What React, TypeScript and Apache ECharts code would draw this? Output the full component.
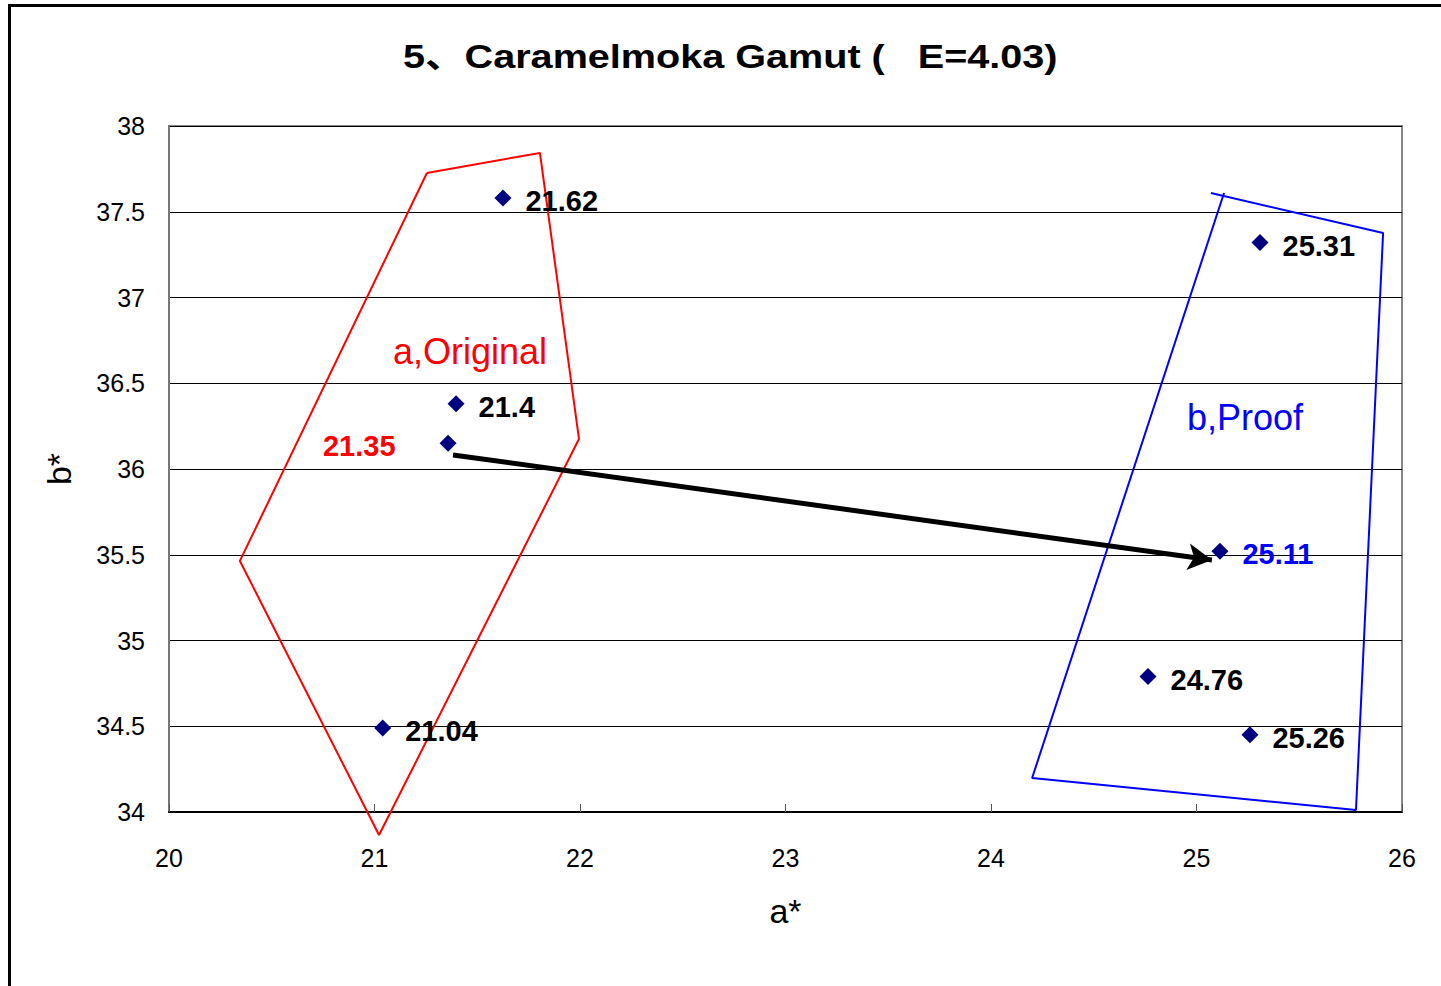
import React, { useEffect, useRef } from "react";
import * as echarts from "echarts";

const pointLabels = ["21.62", "21.4", "21.35", "21.04", "25.31", "25.11", "24.76", "25.26"];
const pointA = [21.625, 21.397, 21.358, 21.04, 25.309, 25.114, 24.764, 25.26];
const pointB = [37.58, 36.38, 36.15, 34.49, 37.32, 35.52, 34.79, 34.45];
const labelColors = ["#000", "#000", "#ff0000", "#000", "#000", "#0000ff", "#000", "#000"];

const originalA = [21.255, 21.805, 21.995, 21.022, 20.345, 21.255];
const originalB = [37.726, 37.843, 36.175, 33.866, 35.464, 37.726];

const proofA = [25.07, 25.908, 25.776, 24.2, 25.134];
const proofB = [37.609, 37.376, 34.012, 34.198, 37.609];

const arrowFrom = [21.382, 36.082];
const arrowTo = [25.075, 35.469];

const regionNames = ["a,Original", "b,Proof"];
const regionA = [21.465, 25.236];
const regionB = [36.688, 36.303];
const regionColors = ["#ff0000", "#0000ff"];

const xTicks = [20, 21, 22, 23, 24, 25, 26];
const yTicks = [34, 34.5, 35, 35.5, 36, 36.5, 37, 37.5, 38];

const titleText = "5、Caramelmoka Gamut (   E=4.03)";

const FONT = "'Liberation Sans', Arial, 'Noto Sans CJK SC', sans-serif";

export default function App() {
  const ref = useRef<HTMLDivElement>(null);
  useEffect(() => {
    if (!ref.current) return;
    const chart = echarts.init(ref.current, undefined, { renderer: "svg" });
    const option: any = {
      animation: false,
      backgroundColor: "#fff",
      graphic: [
        {
          type: "rect",
          shape: { x: 9.5, y: 5.5, width: 1600, height: 1600 },
          style: { fill: "none", stroke: "#000", lineWidth: 3 },
          silent: true,
        },
        {
          type: "text",
          x: 403,
          y: 57,
          scaleX: 1.2,
          silent: true,
          style: {
            text: titleText,
            fontFamily: FONT,
            fontSize: 33,
            fontWeight: "bold",
            fill: "#000",
            textVerticalAlign: "middle",
            verticalAlign: "middle",
          },
        },
      ],
      grid: {
        left: 169,
        top: 126,
        width: 1233,
        height: 686,
        show: true,
        borderColor: "#888",
        borderWidth: 2,
        backgroundColor: "transparent",
      },
      xAxis: {
        type: "value",
        min: xTicks[0],
        max: xTicks[xTicks.length - 1],
        interval: 1,
        name: "a*",
        nameLocation: "middle",
        nameGap: 82,
        nameTextStyle: { fontFamily: FONT, fontSize: 34, color: "#000" },
        axisLine: { show: true, onZero: false, lineStyle: { color: "#000", width: 2 } },
        axisTick: { show: true, inside: true, length: 8, lineStyle: { color: "#555", width: 1 } },
        axisLabel: { fontFamily: FONT, fontSize: 25, color: "#000", margin: 33 },
        splitLine: { show: false },
      },
      yAxis: {
        type: "value",
        min: yTicks[0],
        max: yTicks[yTicks.length - 1],
        interval: 0.5,
        name: "b*",
        nameLocation: "middle",
        nameGap: 93,
        nameTextStyle: { fontFamily: FONT, fontSize: 34, color: "#000" },
        axisLine: { show: true, onZero: false, lineStyle: { color: "#777", width: 2 } },
        axisTick: { show: false },
        axisLabel: { fontFamily: FONT, fontSize: 25, color: "#000", margin: 24 },
        splitLine: { show: true, lineStyle: { color: "#000", width: 1 } },
      },
      series: [
        {
          type: "line",
          data: originalA.map((a, i) => [a, originalB[i]]),
          symbol: "none",
          clip: false,
          lineStyle: { color: "#ff0000", width: 2 },
          silent: true,
          z: 3,
        },
        {
          type: "line",
          data: proofA.map((a, i) => [a, proofB[i]]),
          symbol: "none",
          clip: false,
          lineStyle: { color: "#0000ff", width: 2 },
          silent: true,
          z: 3,
        },
        {
          type: "scatter",
          data: [],
          silent: true,
          z: 4,
          markLine: {
            silent: true,
            symbol: ["none", "arrow"],
            symbolSize: [20, 24],
            lineStyle: { color: "#000", width: 5, type: "solid" },
            label: { show: false },
            data: [[{ coord: arrowFrom }, { coord: arrowTo }]],
          },
        },
        {
          type: "scatter",
          symbol: "diamond",
          symbolSize: 17,
          itemStyle: { color: "#000080", opacity: 1 },
          z: 5,
          data: pointA.map((a, i) => ({
            value: [a, pointB[i]],
            name: pointLabels[i],
            label: {
              show: true,
              formatter: pointLabels[i],
              position: i === 2 ? "left" : "right",
              distance: i === 2 ? 44 : 14,
              offset: [0, 3],
              color: labelColors[i],
              fontFamily: FONT,
              fontSize: 29,
              fontWeight: "bold",
            },
          })),
        },
        {
          type: "scatter",
          symbolSize: 0,
          silent: true,
          z: 5,
          itemStyle: { opacity: 1 },
          data: regionA.map((a, i) => ({
            value: [a, regionB[i]],
            label: {
              show: true,
              formatter: regionNames[i],
              position: "inside",
              color: regionColors[i],
              fontFamily: FONT,
              fontSize: 36,
            },
          })),
        },
      ],
    };
    chart.setOption(option);
    return () => chart.dispose();
  }, []);
  return (
    <div
      ref={ref}
      style={{ position: "absolute", left: 0, top: 0, width: 1441, height: 986 }}
    />
  );
}
